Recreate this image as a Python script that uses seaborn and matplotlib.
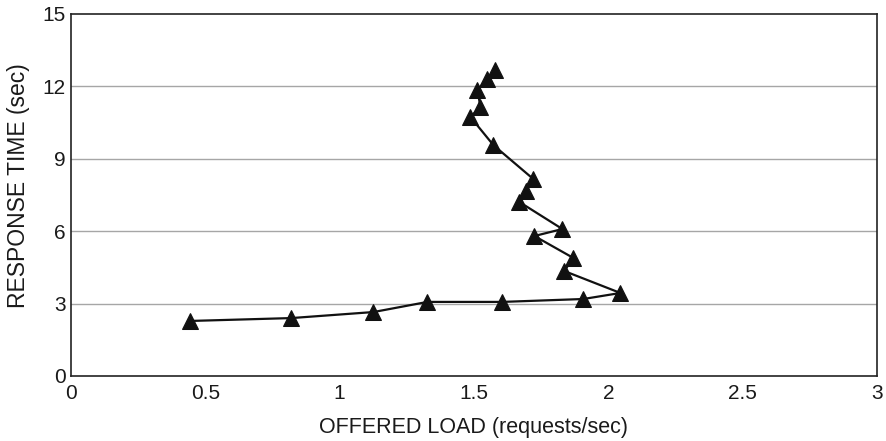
import matplotlib
matplotlib.use("Agg")
import matplotlib.pyplot as plt
import seaborn as sns
import pandas as pd

# Offered load vs. measured response time, in measurement order
offered_load = [0.442, 0.82, 1.126, 1.327, 1.606, 1.907, 2.045, 1.836, 1.870,
                1.725, 1.829, 1.669, 1.695, 1.721, 1.572, 1.487, 1.524, 1.513,
                1.550, 1.580]
response_time = [2.28, 2.40, 2.65, 3.07, 3.07, 3.19, 3.44, 4.35, 4.89,
                 5.80, 6.09, 7.21, 7.67, 8.16, 9.57, 10.73, 11.15, 11.85,
                 12.30, 12.68]

x_ticks = [0, 0.5, 1, 1.5, 2, 2.5, 3]
x_tick_labels = ["0", "0.5", "1", "1.5", "2", "2.5", "3"]
y_ticks = [0, 3, 6, 9, 12, 15]

df = pd.DataFrame({"load": offered_load, "resp": response_time})

sns.set_theme(style="white")
plt.rcParams["font.family"] = ["Liberation Sans", "DejaVu Sans"]

fig = plt.figure(figsize=(8.86, 4.41), dpi=100)
ax = fig.add_axes([0.0801, 0.1474, 0.9898 - 0.0801, 0.9683 - 0.1474])

for yv in y_ticks[1:-1]:
    ax.axhline(yv, color="#a6a6a6", lw=1.0, zorder=0)

sns.lineplot(data=df, x="load", y="resp", sort=False, estimator=None,
             color="#111111", lw=1.6, marker="^", markersize=11.5,
             markeredgecolor="#111111", markerfacecolor="#111111", ax=ax)

ax.set_xlim(0, 3)
ax.set_ylim(0, 15)
ax.set_xticks(x_ticks)
ax.set_xticklabels(x_tick_labels)
ax.set_yticks(y_ticks)
ax.tick_params(axis="both", direction="out", length=3, width=1, color="#222222",
               labelsize=15, labelcolor="#1a1a1a", pad=1)
ax.tick_params(axis="x", pad=3)
for s in ax.spines.values():
    s.set_color("#222222")
    s.set_linewidth(1.2)

ax.set_xlabel("OFFERED LOAD (requests/sec)", fontsize=15.5, color="#1a1a1a", labelpad=10)
ax.set_ylabel("RESPONSE TIME (sec)", fontsize=16.5, color="#1a1a1a")
ax.yaxis.set_label_coords(-0.051, 0.526)

fig.savefig("out.png", dpi=100)
